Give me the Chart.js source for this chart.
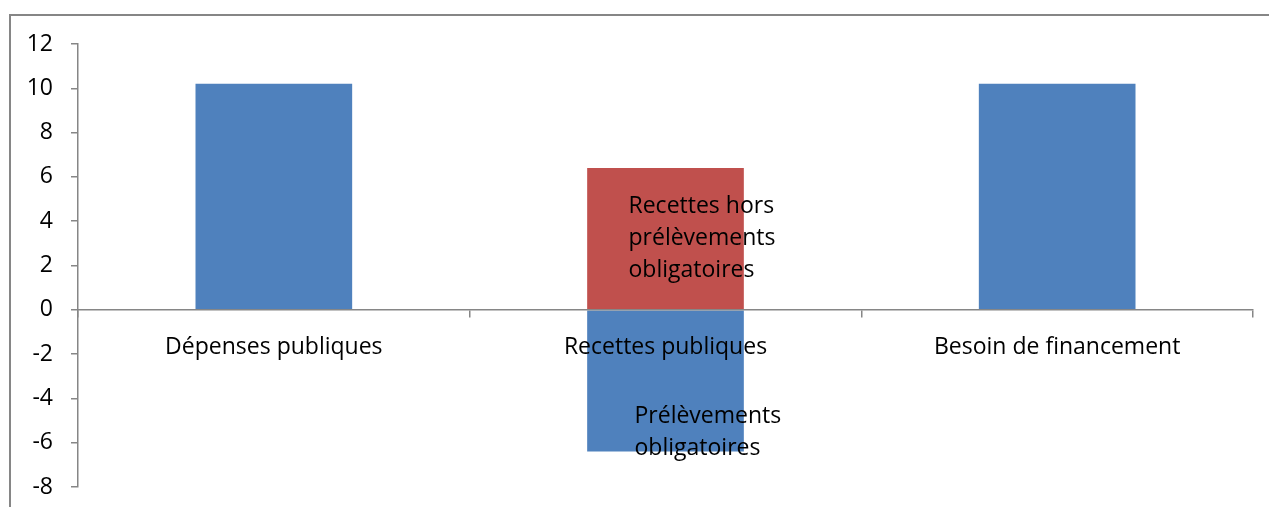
<!DOCTYPE html>
<html lang="fr">
<head>
<meta charset="UTF-8">
<title>Finances publiques</title>
<script src="https://cdn.jsdelivr.net/npm/chart.js"></script>
<style>
  html, body { margin: 0; padding: 0; background: #fff; }
  #wrap { width: 1269px; height: 507px; position: relative; }
</style>
</head>
<body>
<div id="wrap"><canvas id="chart"></canvas></div>
<script>
// data
const categories = ['Dépenses publiques', 'Recettes publiques', 'Besoin de financement'];
const blueValues = [10.2, -6.4, 10.2];
const redValues = [null, 6.4, null];
const redLabel = ['Recettes hors', 'prélèvements', 'obligatoires'];
const blueLabel = ['Prélèvements', 'obligatoires'];
const yTicks = [-8, -6, -4, -2, 0, 2, 4, 6, 8, 10, 12];

const font = { family: '"Open Sans", sans-serif', size: 23 };

// outer frame, like the spreadsheet chart border
const framePlugin = {
  id: 'frame',
  beforeDraw(chart) {
    const ctx = chart.ctx;
    ctx.save();
    ctx.strokeStyle = '#868686';
    ctx.lineWidth = 2;
    ctx.strokeRect(10, 15, 1400, 700);
    ctx.restore();
  }
};

// text labels inside the "Recettes publiques" bars
const barTextPlugin = {
  id: 'barText',
  afterDraw(chart) {
    const ctx = chart.ctx;
    ctx.save();
    ctx.fillStyle = '#000';
    ctx.font = font.size + 'px ' + font.family;
    ctx.textBaseline = 'middle';
    ctx.textAlign = 'left';
    const lh = 32;
    const red = chart.getDatasetMeta(1).data[1];
    if (red) {
      const cy = (red.y + red.base) / 2;
      const x0 = red.x - 37;
      redLabel.forEach((t, i) => ctx.fillText(t, x0, cy - lh + i * lh));
    }
    const blue = chart.getDatasetMeta(0).data[1];
    if (blue) {
      const cy = (blue.y + blue.base) / 2 + 51;
      const x0 = blue.x - 31;
      blueLabel.forEach((t, i) => ctx.fillText(t, x0, cy - lh / 2 + i * lh));
    }
    ctx.restore();
  }
};

new Chart(document.getElementById('chart'), {
  type: 'bar',
  data: {
    labels: categories,
    datasets: [
      { label: 'Dépenses / Prélèvements', data: blueValues, backgroundColor: '#4F81BD' },
      { label: 'Recettes hors prélèvements obligatoires', data: redValues, backgroundColor: '#C0504D' }
    ]
  },
  options: {
    responsive: true,
    maintainAspectRatio: false,
    animation: false,
    categoryPercentage: 0.4,
    barPercentage: 1,
    layout: { padding: { left: 0, top: 44, right: 16, bottom: 20 } },
    plugins: { legend: { display: false }, tooltip: { enabled: false } },
    scales: {
      x: {
        stacked: true,
        z: 1,
        position: { y: 0 },
        afterFit(scale) { scale.height = 0; scale.paddingBottom = 0; scale.paddingTop = 0; },
        grid: { offset: true, drawOnChartArea: false, drawTicks: true, tickLength: 7, tickColor: '#868686', lineWidth: 1.5, z: 1 },
        border: { color: '#868686', width: 1.5, z: 1 },
        ticks: { color: '#000', font: font, padding: 17, maxRotation: 0, z: 1 }
      },
      y: {
        stacked: true,
        min: -8,
        max: 12,
        afterBuildTicks(scale) { scale.ticks = yTicks.map(v => ({ value: v })); },
        afterFit(scale) { scale.width = 78; scale.paddingTop = 0; scale.paddingBottom = 0; },
        grid: { drawOnChartArea: false, drawTicks: true, tickLength: 7, tickColor: '#868686', lineWidth: 1.5 },
        border: { color: '#868686', width: 1.5 },
        ticks: { color: '#000', font: font, padding: 18 }
      }
    }
  },
  plugins: [framePlugin, barTextPlugin]
});
</script>
</body>
</html>
